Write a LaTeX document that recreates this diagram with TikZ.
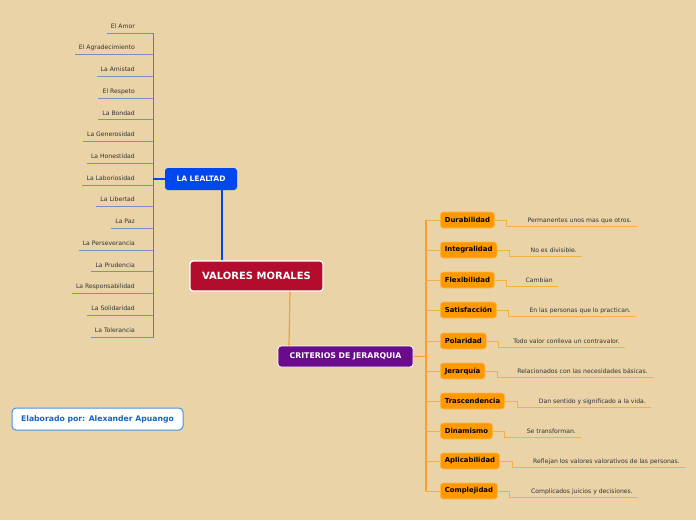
\documentclass[tikz,border=0pt]{standalone}
\usepackage{fontspec}
\setmainfont{DejaVu Sans}
\usetikzlibrary{calc}
\definecolor{bg}{HTML}{E9D3A7}
\definecolor{lblue}{HTML}{0047F0}
\definecolor{vmred}{HTML}{B30C2C}
\definecolor{cpurple}{HTML}{6A0A8C}
\definecolor{oran}{HTML}{FF9900}
\definecolor{oline}{HTML}{F5B041}
\definecolor{ospine}{HTML}{F7A030}
\definecolor{bspine}{HTML}{5B74D6}
\definecolor{bline}{HTML}{7D8CC4}
\definecolor{txt}{HTML}{333333}
\definecolor{ebord}{HTML}{4A90E2}
\definecolor{etxt}{HTML}{1565C0}
\tikzset{
  item/.style={font=\fontsize{6.1}{7}\selectfont, text=txt, inner xsep=4pt, inner ysep=3.3pt, text height=4.6pt, text depth=1.3pt},
  uline/.style={draw=bline, line width=0.8pt},
  bsp/.style={draw=bspine, line width=0.9pt},
  crit/.style={rectangle, rounded corners=3pt, fill=oran, draw=oran!70!white, line width=0.6pt, font=\bfseries\fontsize{6.9}{8}\selectfont, text=black, minimum height=16pt, inner xsep=4.5pt},
  desc/.style={font=\fontsize{6.1}{7}\selectfont, text=txt, inner xsep=5pt, inner ysep=3.3pt, text height=4.6pt, text depth=1.3pt},
  oconn/.style={draw=oline, line width=0.8pt},
  osp/.style={draw=ospine, line width=1.1pt},
}
\begin{document}
\begin{tikzpicture}[x=1pt,y=-1pt]
\fill[bg] (0,0) rectangle (696,520);
\useasboundingbox (0,0) rectangle (696,520);

% main nodes
\node[rectangle, rounded corners=3pt, fill=vmred, draw=white, line width=1.2pt, minimum width=133pt, minimum height=30pt, text=white, font=\bfseries\fontsize{10}{12}\selectfont] (vm) at (256.5,276) {VALORES MORALES};
\node[rectangle, rounded corners=3pt, fill=lblue, minimum width=72pt, minimum height=22pt, text=white, font=\bfseries\fontsize{7.5}{9}\selectfont] (leal) at (201,179) {LA LEALTAD};
\node[rectangle, rounded corners=3pt, fill=cpurple, draw=white, line width=0.8pt, minimum width=135pt, minimum height=21pt, text=white, font=\bfseries\fontsize{7.8}{9}\selectfont] (cj) at (345.5,356.5) {CRITERIOS DE JERARQUIA};
\node[rectangle, rounded corners=4pt, fill=white, draw=ebord, line width=1pt, minimum width=171pt, minimum height=22pt, text=etxt, font=\bfseries\fontsize{7.7}{9}\selectfont] (elab) at (97.5,419) {Elaborado por: Alexander Apuango};

% main connectors
\draw[draw=lblue, line width=1.4pt] ($(leal.south)+(21,0)$) -- ($(vm.north)+(-34.5,0)$);
\draw[draw=ospine, line width=1.2pt] ($(vm.south)+(33.5,0)$) -- ($(cj.north)+(-56.5,0)$);

% left branch
\coordinate (lt) at (153,33);
\coordinate (lb) at (153,338);
\draw[bsp] (lt) -- (lb);
\draw[draw=lblue, line width=1.2pt] (leal.west) -- (leal.west -| lt);
\foreach \t [count=\i] in {El Amor, El Agradecimiento, La Amistad, El Respeto, La Bondad, La Generosidad, La Honestidad, La Laboriosidad, La Libertad, La Paz, La Perseverancia, La Prudencia, La Responsabilidad, La Solidaridad, La Tolerancia} {
  \pgfmathsetmacro\yy{33+(\i-1)*21.71}
  \node[item, anchor=south east] (l\i) at (139,\yy) {\t};
  \draw[uline] (l\i.south west) -- (l\i.south west -| lt);
}

% right branch
\coordinate (rt) at (426,220);
\coordinate (rb) at (426,491);
\draw[osp] (rt) -- (rb);
\draw[osp] (cj.east) -- (cj.east -| rt);
\foreach \n/\y/\e/\d [count=\i] in {Durabilidad/220/637/Permanentes unos mas que otros., Integralidad/250/582/No es divisible., Flexibilidad/280/558/Cambian, Satisfacción/310/636/En las personas que lo practican., Polaridad/341/625/Todo valor conlleva un contravalor., Jerarquía/371/653/Relacionados con las necesidades básicas., Trascendencia/401/651/Dan sentido y significado a la vida., Dinamismo/431/581/Se transforman., Aplicabilidad/461/685/Reflejan los valores valorativos de las personas., Complejidad/491/638/Complicados juicios y decisiones.} {
  \node[crit, anchor=west] (b\i) at (440,\y) {\n};
  \node[desc, anchor=south east] (d\i) at (\e,\y+6.8) {\d};
  \draw[oconn] (b\i.west -| rt) -- (b\i.west);
  \draw[oconn] (b\i.east) -- ++(12,0) -- ++(0,6.8) -- (d\i.south east);
}
\end{tikzpicture}
\end{document}
